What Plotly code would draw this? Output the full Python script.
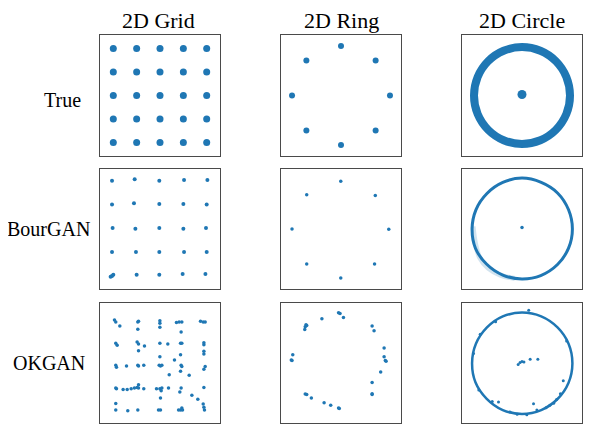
import plotly.graph_objects as go
from plotly.subplots import make_subplots

BLUE = "#1f77b4"

col_titles = ["2D Grid", "2D Ring", "2D Circle"]
row_titles = ["True", "BourGAN", "OKGAN"]

# ---- True ----
true_grid_x = [-4, -2, 0, 2, 4] * 5
true_grid_y = [4] * 5 + [2] * 5 + [0] * 5 + [-2] * 5 + [-4] * 5

true_ring_x = [0.0, 1.414, 2.0, 1.414, 0.0, -1.414, -2.0, -1.414]
true_ring_y = [2.0, 1.414, 0.0, -1.414, -2.0, -1.414, 0.0, 1.414]

true_circle_x = [0.0, 0.383, 0.707, 0.924, 1.0, 0.924, 0.707, 0.383, 0.0,
                 -0.383, -0.707, -0.924, -1.0, -0.924, -0.707, -0.383, 0.0]
true_circle_y = [1.0, 0.924, 0.707, 0.383, 0.0, -0.383, -0.707, -0.924, -1.0,
                 -0.924, -0.707, -0.383, 0.0, 0.383, 0.707, 0.924, 1.0]
true_center_x = [0.0]
true_center_y = [0.02]

# ---- BourGAN ----
bour_grid_x = [-4.11, -2.17, -0.06, 2.06, 4.06,
               -4.11, -2.23, -0.06, 2.00, 4.00,
               -4.06, -2.11, -0.06, 2.00, 3.94,
               -4.11, -2.06, -0.06, 2.06, 4.00,
               -4.11, -2.00, -0.06, 1.94, 3.89, -4.23, -4.00]
bour_grid_y = [4.14, 4.26, 4.14, 4.20, 4.20,
               2.09, 2.20, 2.14, 2.14, 2.09,
               0.09, 0.03, 0.09, 0.03, 0.09,
               -1.97, -1.97, -1.97, -1.97, -1.97,
               -4.03, -3.91, -3.91, -3.86, -3.86, -4.09, -3.91]

bour_ring_x = [-0.01, 1.40, 1.95, 1.37, -0.01, -1.40, -2.00, -1.40]
bour_ring_y = [1.95, 1.37, -0.01, -1.43, -2.00, -1.43, 0.0, 1.40]

bour_circle_x = [0.0, 0.40, 0.74, 0.97, 1.05, 0.97, 0.74, 0.39, 0.0,
                 -0.40, -0.74, -0.97, -1.04, -0.96, -0.73, -0.40, 0.0]
bour_circle_y = [1.06, 0.97, 0.75, 0.40, 0.0, -0.40, -0.74, -0.97, -1.04,
                 -0.96, -0.73, -0.40, 0.0, 0.40, 0.74, 0.97, 1.06]
bour_faded_x = [-1.02, -0.97, -0.88, -0.70, -0.45, -0.15]
bour_faded_y = [0.05, -0.30, -0.60, -0.82, -0.96, -1.03]
bour_center_x = [0.0]
bour_center_y = [0.03]

# ---- OKGAN ----
ok_grid_x = [-3.90, -3.79, -3.44, -1.90, -1.84, -1.90, -0.01, -0.01, -0.01,
             1.41, 1.64, 1.87, 1.81, 3.47, 3.70, 3.87,
             -3.79, -3.67, -1.96, -1.84, -1.33, -1.84, -0.01, 0.67, 1.76, 1.87,
             3.76, 3.76, 3.76, 3.76,
             -0.01, 1.76, 1.24,
             -3.79, -3.73, -2.87, -1.90, -1.84, -1.39, -0.07, 0.04, 0.16,
             1.81, 1.87, 3.87, 3.76, 1.76, 0.79, 2.50,
             -3.79, -3.73, -3.16, -2.81, -2.47, -2.19, -1.96, -1.84, -1.84,
             -1.39, -0.30, -0.01, 0.16, 0.10, 0.73, 1.81, 1.70, 3.76,
             0.04, 2.73, 3.24,
             -3.79, -3.79, -2.76, -1.90, -0.13, 0.04, 1.76, 1.87, 1.93,
             3.70, 3.76, 3.81, 1.59]
ok_grid_y = [3.69, 3.51, 3.17, 3.51, 3.57, 2.89, 3.63, 3.40, 3.06,
             3.46, 3.51, 3.51, 2.66, 3.57, 3.51, 3.51,
             1.69, 1.51, 1.80, 1.63, 1.46, 1.06, 1.69, 1.63, 1.69, 1.69,
             1.74, 1.57, 1.00, 0.77,
             0.54, 0.71, 0.26,
             -0.20, -0.37, -0.26, -0.20, -0.26, -0.20, -0.20, -0.26, -0.20,
             -0.20, -0.31, -0.31, -0.54, -0.71, -1.00, -1.06,
             -2.14, -2.20, -2.26, -2.26, -2.20, -2.14, -2.09, -2.14, -1.86,
             -2.20, -2.20, -2.20, -2.14, -2.37, -2.14, -2.14, -2.49, -2.09,
             -3.00, -2.77, -3.11,
             -3.46, -4.03, -4.09, -4.03, -4.03, -4.03, -4.03, -3.86, -4.03,
             -3.51, -3.80, -4.03, -4.03]

ok_ring_x = [-0.10, -0.04, 0.10, -0.78, -1.43, -1.46, -1.48, -1.40,
             1.27, 1.35, 1.76, -1.97, -2.03, -2.00, 1.76, 1.81, 1.84,
             1.62, 1.27, 1.27, 1.27, -1.46, -1.40, -1.21, -0.69, -0.42,
             -0.10, -0.07]
ok_ring_y = [2.05, 2.02, 1.86, 1.81, 1.56, 1.48, 1.37, 1.53,
             1.51, 1.32, 0.61, 0.34, 0.12, 0.10, 0.26, 0.10, 0.07,
             -0.37, -0.80, -1.29, -1.26, -1.27, -1.29, -1.43, -1.62, -1.73,
             -1.84, -1.86]

ok_circle_x = [0.0, 0.40, 0.74, 0.97, 1.05, 0.97, 0.74, 0.40, 0.0,
               -0.40, -0.74, -0.97, -1.04, -0.96, -0.73, -0.40, 0.0]
ok_circle_y = [1.05, 0.97, 0.74, 0.40, -0.01, -0.41, -0.75, -0.98, -1.06,
               -0.98, -0.74, -0.40, 0.0, 0.40, 0.74, 0.97, 1.05]
ok_scatter_x = [-0.08, -0.04, 0.0, 0.04, 0.17, 0.33, 0.24, -0.49, 0.86, 0.14,
                -0.62, -0.25, 0.31, 0.58, 0.72, 0.93, -0.87, -1.01, -0.90,
                0.50, 0.66, 0.10, -0.10, 0.80, -0.55]
ok_scatter_y = [-0.03, 0.01, 0.03, 0.02, 0.08, 0.08, -0.85, -0.81, -0.37, 1.10,
                -0.80, -1.02, -0.98, -0.88, -0.76, 0.46, 0.60, 0.20, -0.56,
                -0.93, -0.84, -1.08, -1.07, -0.64, 0.86]

fig = make_subplots(rows=3, cols=3)


def pts(x, y, size, r, c, opacity=1.0):
    fig.add_trace(go.Scatter(x=x, y=y, mode="markers",
                             marker=dict(color=BLUE, size=size, opacity=opacity,
                                         line=dict(width=0)),
                             showlegend=False, hoverinfo="skip"), row=r, col=c)


def ring(x, y, width, r, c, opacity=1.0):
    fig.add_trace(go.Scatter(x=x, y=y, mode="lines",
                             line=dict(color=BLUE, width=width, shape="spline"),
                             opacity=opacity, showlegend=False, hoverinfo="skip"),
                  row=r, col=c)


# Row 1: True
pts(true_grid_x, true_grid_y, 7, 1, 1)
pts(true_ring_x, true_ring_y, 6, 1, 2)
ring(true_circle_x, true_circle_y, 8, 1, 3)
pts(true_center_x, true_center_y, 9, 1, 3)

# Row 2: BourGAN
pts(bour_grid_x, bour_grid_y, 4, 2, 1)
pts(bour_ring_x, bour_ring_y, 3.5, 2, 2)
ring(bour_faded_x, bour_faded_y, 5, 2, 3, opacity=0.2)
ring(bour_circle_x, bour_circle_y, 3, 2, 3)
pts(bour_center_x, bour_center_y, 3.5, 2, 3)

# Row 3: OKGAN
pts(ok_grid_x, ok_grid_y, 3.5, 3, 1)
pts(ok_ring_x, ok_ring_y, 3.5, 3, 2)
ring(ok_circle_x, ok_circle_y, 2.5, 3, 3)
pts(ok_scatter_x, ok_scatter_y, 3, 3, 3)

# page body has an 8px margin; figure placed so that panels land on reference pixels
OFF = 8
W, H = 600, 423
col_px = [(100, 220), (281, 401), (462, 582)]
row_px = [(35, 156), (169, 289), (303, 423)]
ranges = [5.14, 2.45, 1.25]

ax = {}
for r in range(3):
    for c in range(3):
        idx = r * 3 + c + 1
        sfx = "" if idx == 1 else str(idx)
        common = dict(showgrid=False, zeroline=False, showticklabels=False,
                      ticks="", showline=True, mirror=True,
                      linecolor="#4a4a4a", linewidth=1)
        ax["xaxis" + sfx] = dict(domain=[(col_px[c][0] - OFF) / W, (col_px[c][1] - OFF) / W],
                                 range=[-ranges[c], ranges[c]], **common)
        ax["yaxis" + sfx] = dict(domain=[1 - (row_px[r][1] - OFF) / H,
                                         1 - (row_px[r][0] - OFF) / H],
                                 range=[-ranges[c], ranges[c]], **common)

annotations = []
title_x = [158, 341, 522]
for t, px in zip(col_titles, title_x):
    annotations.append(dict(text=t, x=(px - OFF) / W, y=1.004,
                            xref="paper", yref="paper",
                            xanchor="center", yanchor="top", showarrow=False,
                            font=dict(family="Liberation Serif", size=22, color="black")))
row_x = [62, 48.5, 49]
row_y = [100, 229, 363]
for t, px, py in zip(row_titles, row_x, row_y):
    annotations.append(dict(text=t, x=(px - OFF) / W, y=1 - (py - OFF) / H,
                            xref="paper", yref="paper",
                            xanchor="center", yanchor="middle", showarrow=False,
                            font=dict(family="Liberation Serif", size=20, color="black")))

fig.update_layout(width=W, height=H, margin=dict(l=0, r=0, t=0, b=0),
                  paper_bgcolor="white", plot_bgcolor="white",
                  annotations=annotations, **ax)

fig.write_html("out.html")
